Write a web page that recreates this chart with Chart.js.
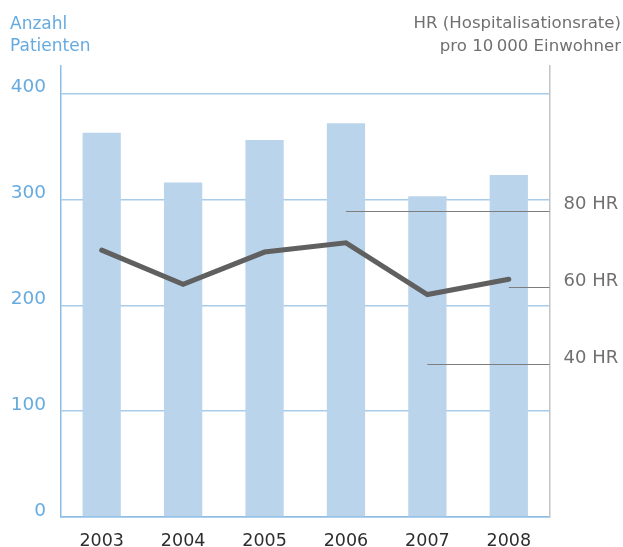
<!DOCTYPE html>
<html>
<head>
<meta charset="utf-8">
<script src="https://cdn.jsdelivr.net/npm/chart.js@4"></script>
<style>
  html, body { margin: 0; padding: 0; background: #ffffff; }
  #wrap { position: absolute; left: 0; top: 0; width: 623px; height: 547px; }
</style>
</head>
<body>
<div id="wrap"><canvas id="c" width="623" height="547"></canvas></div>
<script>
// ---- data ----
const years = ['2003', '2004', '2005', '2006', '2007', '2008'];
const patients = [363, 316, 356, 372, 303, 323];
const hrRate = [69.7, 60.8, 69.2, 71.6, 58.1, 62.1];
const patientTicks = [0, 100, 200, 300, 400];
const hrTicks = [40, 60, 80];
const hrRefStart = ['2007', '2008', '2006']; // category where the 40/60/80 HR guide starts
const leftTitle = ['Anzahl', 'Patienten'];
const rightTitle = ['HR (Hospitalisationsrate)', 'pro 10\u2009000 Einwohner'];

const FONT = '"DejaVu Sans", sans-serif';
const BLUE_TEXT = '#66abe0';
const GRAY_TEXT = '#707070';

const titlesPlugin = {
  id: 'titles',
  afterDraw(chart) {
    const ctx = chart.ctx;
    ctx.save();
    ctx.textBaseline = 'alphabetic';
    ctx.font = '17px ' + FONT;
    ctx.fillStyle = BLUE_TEXT;
    ctx.textAlign = 'left';
    ctx.fillText(leftTitle[0], 10, 29);
    ctx.fillText(leftTitle[1], 10, 51);
    ctx.font = '16.6px ' + FONT;
    ctx.fillStyle = GRAY_TEXT;
    ctx.textAlign = 'right';
    ctx.fillText(rightTitle[0], 621, 28);
    ctx.fillText(rightTitle[1], 621, 51);
    ctx.restore();
  }
};

const hrGuidePlugin = {
  id: 'hrGuides',
  afterDatasetDraw(chart, args) {
    if (args.index !== 0) return;
    const ctx = chart.ctx;
    const xs = chart.scales.x, ys = chart.scales.y1;
    ctx.save();
    ctx.strokeStyle = '#7d7d7d';
    ctx.lineWidth = 1;
    hrTicks.forEach((v, i) => {
      const y = Math.round(ys.getPixelForValue(v)) + 0.5;
      const x0 = xs.getPixelForValue(years.indexOf(hrRefStart[i]));
      ctx.beginPath();
      ctx.moveTo(x0, y);
      ctx.lineTo(chart.chartArea.right, y);
      ctx.stroke();
    });
    ctx.restore();
  }
};

new Chart(document.getElementById('c'), {
  type: 'bar',
  data: {
    labels: years,
    datasets: [
      {
        type: 'bar',
        data: patients,
        yAxisID: 'y',
        backgroundColor: '#bad4ec',
        borderWidth: 0,
        barPercentage: 0.47,
        categoryPercentage: 1,
        order: 2
      },
      {
        type: 'line',
        data: hrRate,
        yAxisID: 'y1',
        borderColor: '#606060',
        borderWidth: 5,
        borderCapStyle: 'round',
        borderJoinStyle: 'miter',
        pointRadius: 0,
        tension: 0,
        fill: false,
        order: 1
      }
    ]
  },
  options: {
    responsive: false,
    animation: false,
    devicePixelRatio: 1,
    layout: { padding: { top: 66, left: 0, right: 0, bottom: 0 } },
    plugins: {
      legend: { display: false },
      tooltip: { enabled: false },
      title: { display: false }
    },
    scales: {
      x: {
        grid: { display: false },
        border: { color: '#8cbde6', width: 1.5 },
        ticks: {
          color: '#2e2e2e',
          font: { family: FONT, size: 17.5 },
          padding: 6,
          maxRotation: 0
        },
        afterFit(s) { s.height = 30; }
      },
      y: {
        position: 'left',
        min: 0,
        max: 426,
        grid: { color: '#a9cbea', lineWidth: 1.5, drawTicks: false },
        border: { color: '#8cbde6', width: 1.5 },
        afterBuildTicks(s) { s.ticks = patientTicks.map(v => ({ value: v })); },
        ticks: {
          color: BLUE_TEXT,
          font: { family: FONT, size: 18.5 },
          padding: 15,
          labelOffset: -6,
          includeBounds: false
        },
        afterFit(s) { s.width = 61; }
      },
      y1: {
        position: 'right',
        min: 0,
        max: 117.8,
        grid: { display: false, drawTicks: false },
        border: { color: '#c4c4c4', width: 1.5 },
        afterBuildTicks(s) { s.ticks = hrTicks.map(v => ({ value: v })); },
        ticks: {
          color: GRAY_TEXT,
          font: { family: FONT, size: 18 },
          padding: 14,
          labelOffset: -6,
          callback: v => v + ' HR'
        },
        afterFit(s) { s.width = 73.5; }
      }
    }
  },
  plugins: [titlesPlugin, hrGuidePlugin]
});
</script>
</body>
</html>
